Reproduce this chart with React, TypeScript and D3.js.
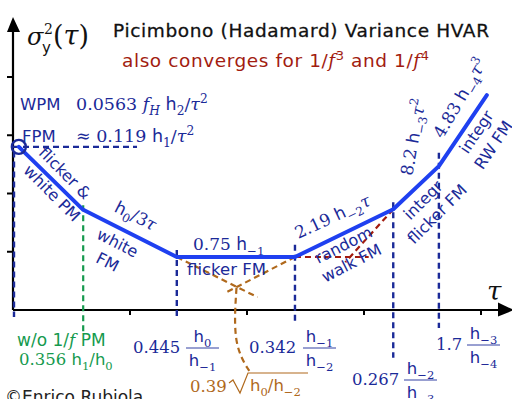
import React from 'react';
import * as d3 from 'd3';

const W = 512;
const H = 399;

// axis ticks, in decades
const tauTicks = [1, 2, 3, 4];
const sigmaTicks = [1, 2, 3, 4];

// corners of the HVAR curve (log tau, log sigma), read off the picture
const cornerTau = [0.05, 0.6, 1.4, 2.41, 3.25, 3.64, 4.05];
const cornerSigma = [2.8, 1.72, 0.91, 0.91, 1.73, 2.47, 3.69];

// blue dashed markers at the corners
const markerTau = [0, 1.4, 2.41, 3.25, 3.64];
const markerTop = [2.72, 1.03, 1.12, 1.85, 2.7];
const markerBottom = [-0.12, -0.17, -0.21, -0.82, -0.31];

// green marker (w/o 1/f PM)
const greenTau = 0.6;
const greenTop = 1.8;
const greenBottom = -0.43;

// horizontal dashed level from the circle
const levelTau = [0, 1.06];
const levelSigma = 2.8;

// brown asymptotes (white FM and RW FM extended) and their leader
const brownA = { tau: [1.4, 2.09], sigma: [0.91, 0.22] };
const brownB = { tau: [2.41, 1.81], sigma: [0.91, 0.29] };
const brownLeader = { tau: [1.91, 1.88, 2.03], sigma: [0.38, -0.6, -1.08] };

// red asymptotes (flicker FM and 1/f^3 extended)
const redFlat = { tau: [2.41, 3.04], sigma: [0.91, 0.91] };
const redSlope = { tau: [3.25, 2.84], sigma: [1.73, 0.82] };

const mainBlue = '#1f40f0';
const dark = '#1b2a98';
const green = '#159a4e';
const brown = '#b0691c';
const red = '#a21c10';

const SANS = 'DejaVu Sans';
const SERIF = 'DejaVu Serif';

type Seg = { t: string; f?: 'r' | 'i' | 's'; k?: 'sub' | 'sup' };

const M: React.FC<{
  x?: number;
  y?: number;
  segs: Seg[];
  size: number;
  fill: string;
  anchor?: string;
  transform?: string;
}> = ({ x = 0, y = 0, segs, size, fill, anchor = 'start', transform }) => {
  let cur = 0;
  return (
    <text x={x} y={y} fontSize={size} fill={fill} textAnchor={anchor} transform={transform} style={{ whiteSpace: 'pre' }}>
      {segs.map((s, i) => {
        const target = s.k === 'sub' ? size * 0.28 : s.k === 'sup' ? -size * 0.42 : 0;
        const dy = target - cur;
        cur = target;
        return (
          <tspan
            key={i}
            dy={dy}
            fontFamily={s.f === 's' ? SANS : SERIF}
            fontStyle={s.f === 'i' ? 'italic' : 'normal'}
            fontSize={s.k ? size * 0.7 : size}
          >
            {s.t}
          </tspan>
        );
      })}
    </text>
  );
};

const h = (sub: string): Seg[] => [{ t: 'h', f: 's' }, { t: sub, k: 'sub' }];

const Frac: React.FC<{ x: number; w: number; line: number; num: Seg[]; den: Seg[]; fill: string; size: number }> = ({
  x, w, line, num, den, fill, size,
}) => (
  <g>
    <M x={x + w / 2} y={line - 6} segs={num} size={size} fill={fill} anchor="middle" />
    <line x1={x} x2={x + w} y1={line} y2={line} stroke={fill} strokeWidth={0.9} />
    <M x={x + w / 2} y={line + 18} segs={den} size={size} fill={fill} anchor="middle" />
  </g>
);

const SansLabel: React.FC<{ x: number; y: number; r: number; t: string; fill?: string; size?: number }> = ({
  x, y, r, t, fill = dark, size = 16,
}) => (
  <text transform={`translate(${x},${y}) rotate(${r})`} textAnchor="middle" fontFamily={SANS} fontSize={size} fill={fill}>
    {t}
  </text>
);

export default function App() {
  const x = d3.scaleLinear().domain([0, 4]).range([13, 481]);
  const y = d3.scaleLinear().domain([0, 4]).range([310, 77]);

  const line = d3
    .line<number>()
    .x((_, i) => x(cornerTau[i]))
    .y((d) => y(d));

  const seg = (tau: number[], sigma: number[]) => d3.line<number>().x((_, i) => x(tau[i])).y((d) => y(d))(sigma) || '';

  const leader = d3
    .line<number>()
    .x((_, i) => x(brownLeader.tau[i]))
    .y((d) => y(d))
    .curve(d3.curveBasis)(brownLeader.sigma) || '';

  const dash = '6,4';

  return (
    <div style={{ position: 'fixed', left: 0, top: 0 }}>
      <svg width={W} height={H} style={{ display: 'block', background: '#fff' }}>
        {/* axes */}
        <line x1={x(0)} x2={500} y1={y(0)} y2={y(0)} stroke="#000" strokeWidth={2.2} />
        <polygon points={`498,302.5 514,${y(0)} 498,316.5`} fill="#000" />
        <line x1={x(0)} x2={x(0)} y1={y(0)} y2={28} stroke="#000" strokeWidth={2.2} />
        <polygon points={`7,32 ${x(0)},17 20,32`} fill="#000" />
        {tauTicks.map((t) => (
          <line key={t} x1={x(t)} x2={x(t)} y1={y(0)} y2={y(0) + 5} stroke="#000" strokeWidth={2} />
        ))}
        {sigmaTicks.map((s) => (
          <line key={s} x1={x(0) - 6} x2={x(0)} y1={y(s)} y2={y(s)} stroke="#000" strokeWidth={2} />
        ))}

        {/* dashed guides */}
        {markerTau.map((t, i) => (
          <line
            key={t}
            x1={x(t) + (i === 0 ? 1 : 0)}
            x2={x(t) + (i === 0 ? 1 : 0)}
            y1={y(markerTop[i])}
            y2={y(markerBottom[i])}
            stroke={dark}
            strokeWidth={2.4}
            strokeDasharray={dash}
          />
        ))}
        <line x1={x(levelTau[0])} x2={x(levelTau[1])} y1={y(levelSigma)} y2={y(levelSigma)} stroke={dark} strokeWidth={2.2} strokeDasharray={dash} />
        <line x1={x(greenTau)} x2={x(greenTau)} y1={y(greenTop)} y2={y(greenBottom)} stroke={green} strokeWidth={2.2} strokeDasharray={dash} />
        <path d={seg(brownA.tau, brownA.sigma)} stroke={brown} strokeWidth={2.2} strokeDasharray={dash} fill="none" />
        <path d={seg(brownB.tau, brownB.sigma)} stroke={brown} strokeWidth={2.2} strokeDasharray={dash} fill="none" />
        <path d={leader} stroke={brown} strokeWidth={2.2} strokeDasharray={dash} fill="none" />
        <path d={seg(redFlat.tau, redFlat.sigma)} stroke={red} strokeWidth={2.2} strokeDasharray={dash} fill="none" />
        <path d={seg(redSlope.tau, redSlope.sigma)} stroke={red} strokeWidth={2.2} strokeDasharray={dash} fill="none" />

        {/* HVAR curve */}
        <path d={line(cornerSigma) || ''} fill="none" stroke={mainBlue} strokeWidth={4} strokeLinejoin="round" strokeLinecap="round" />
        <circle cx={x(cornerTau[0])} cy={y(cornerSigma[0])} r={7} fill="none" stroke={dark} strokeWidth={2.4} />

        {/* y label */}
        <text x={27} y={45} fontFamily={SERIF} fontStyle="italic" fontSize={24} fill="#111">σ</text>
        <text x={44} y={34} fontFamily={SERIF} fontSize={14} fill="#111">2</text>
        <text x={42} y={53} fontFamily={SANS} fontSize={15} fill="#111">y</text>
        <text x={53} y={45} fontFamily={SERIF} fontSize={27} fill="#111">
          (<tspan fontStyle="italic">τ</tspan>)
        </text>
        <text x={487} y={300} fontFamily={SERIF} fontStyle="italic" fontSize={26} fill="#111">τ</text>

        {/* titles */}
        <text x={113} y={37} fontFamily={SANS} fontSize={18.5} fill="#111" stroke="#111" strokeWidth={0.3} textLength={376} lengthAdjust="spacing">
          Picimbono (Hadamard) Variance HVAR
        </text>
        <text x={122} y={67} fontFamily={SANS} fontSize={18.5} fill={red} textLength={307} lengthAdjust="spacing" style={{ whiteSpace: 'pre' }}>
          also converges for 1/<tspan fontFamily={SERIF} fontStyle="italic">f</tspan>
          <tspan dy={-7} fontSize={13}>3</tspan>
          <tspan dy={7}> and 1/</tspan>
          <tspan fontFamily={SERIF} fontStyle="italic">f</tspan>
          <tspan dy={-7} fontSize={13}>4</tspan>
        </text>

        {/* WPM / FPM */}
        <text x={20} y={110} fontFamily={SANS} fontSize={16.5} fill={dark}>WPM</text>
        <M x={76} y={110} size={17.5} fill={dark} segs={[
          { t: '0.0563 ' }, { t: 'f', f: 'i' }, { t: 'H', f: 'i', k: 'sub' }, { t: ' ' }, ...h('2'), { t: '/' }, { t: 'τ', f: 'i' }, { t: '2', k: 'sup' },
        ]} />
        <text x={22} y={142} fontFamily={SANS} fontSize={16.5} fill={dark}>FPM</text>
        <M x={76} y={142} size={17.5} fill={dark} segs={[
          { t: '≈ 0.119 ' }, ...h('1'), { t: '/' }, { t: 'τ', f: 'i' }, { t: '2', k: 'sup' },
        ]} />

        {/* region labels */}
        <SansLabel x={61} y={177} r={45} t="flicker &" />
        <SansLabel x={48} y={197} r={45} t="white PM" />
        <M size={17} fill={dark} anchor="middle" transform="translate(133,221) rotate(27)" segs={[...h('0'), { t: '/3' }, { t: 'τ', f: 'i' }]} />
        <SansLabel x={115} y={248} r={27} t="white" />
        <SansLabel x={105} y={267} r={27} t="FM" />
        <M x={193} y={250} size={17} fill={dark} segs={[{ t: '0.75 ' }, ...h('−1')]} />
        <text x={187} y={275} fontFamily={SANS} fontSize={16.5} fill={dark}>flicker FM</text>
        <M size={17} fill={dark} anchor="middle" transform="translate(335,222) rotate(-25)" segs={[{ t: '2.19 ' }, ...h('−2'), { t: 'τ', f: 'i' }]} />
        <SansLabel x={346} y={250} r={-27} t="random" />
        <SansLabel x={354} y={268} r={-27} t="walk FM" />
        <M size={17} fill={dark} anchor="middle" transform="translate(419,138) rotate(-80)" segs={[{ t: '8.2 ' }, ...h('−3'), { t: 'τ', f: 'i' }, { t: '2', k: 'sup' }]} />
        <M size={17} fill={dark} anchor="middle" transform="translate(465,101) rotate(-60)" segs={[{ t: '4.83 ' }, ...h('−4'), { t: 'τ', f: 'i' }, { t: '3', k: 'sup' }]} />
        <SansLabel x={427} y={204} r={-45} t="integr" />
        <SansLabel x={441} y={218} r={-45} t="flicker FM" />
        <SansLabel x={481} y={135} r={-56} t="integr" />
        <SansLabel x={498} y={148} r={-56} t="RW FM" />

        {/* bottom formulas */}
        <text x={17} y={346} fontFamily={SANS} fontSize={17} fill={green} style={{ whiteSpace: 'pre' }}>
          w/o 1/<tspan fontFamily={SERIF} fontStyle="italic">f</tspan> PM
        </text>
        <M x={19} y={365} size={16.5} fill={green} segs={[{ t: '0.356 ' }, ...h('1'), { t: '/' }, ...h('0')]} />

        <M x={133} y={353} size={16.5} fill={dark} segs={[{ t: '0.445' }]} />
        <Frac x={186} w={33} line={348} size={16.5} fill={dark} num={h('0')} den={h('−1')} />
        <M x={249} y={353} size={16.5} fill={dark} segs={[{ t: '0.342' }]} />
        <Frac x={303} w={33} line={348} size={16.5} fill={dark} num={h('−1')} den={h('−2')} />
        <M x={352} y={385} size={16.5} fill={dark} segs={[{ t: '0.267' }]} />
        <Frac x={404} w={33} line={380} size={16.5} fill={dark} num={h('−2')} den={h('−3')} />
        <M x={436} y={350} size={16.5} fill={dark} segs={[{ t: '1.7' }]} />
        <Frac x={467} w={33} line={345} size={16.5} fill={dark} num={h('−3')} den={h('−4')} />

        <M x={190} y={392} size={16.5} fill={brown} segs={[{ t: '0.39' }]} />
        <path d="M229,383 L233,380 L240,393 L248,373 L308,373" fill="none" stroke={brown} strokeWidth={1.2} />
        <M x={250} y={391} size={16.5} fill={brown} segs={[...h('0'), { t: '/' }, ...h('−2')]} />

        <text x={5} y={403} fontFamily={SANS} fontSize={17} fill="#222">©Enrico Rubiola</text>
      </svg>
    </div>
  );
}
